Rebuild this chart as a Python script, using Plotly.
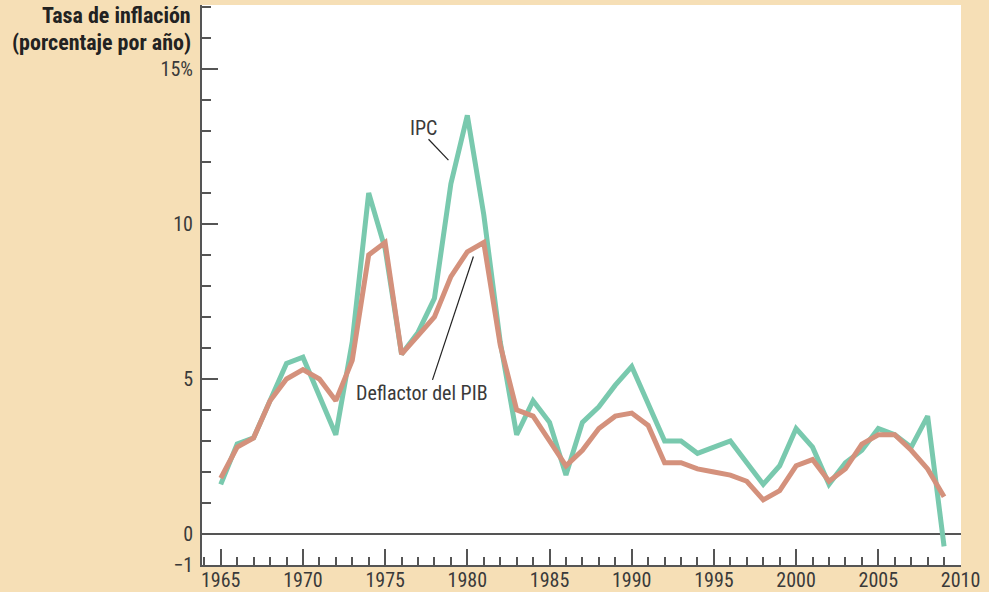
import plotly.graph_objects as go

years = list(range(1965, 2010))
ipc = [1.6, 2.9, 3.1, 4.3, 5.5, 5.7, 4.4, 3.2, 6.2, 11.0,
       9.2, 5.8, 6.5, 7.6, 11.3, 13.5, 10.3, 6.2, 3.2, 4.3,
       3.6, 1.9, 3.6, 4.1, 4.8, 5.4, 4.2, 3.0, 3.0, 2.6,
       2.8, 3.0, 2.3, 1.6, 2.2, 3.4, 2.8, 1.6, 2.3, 2.7,
       3.4, 3.2, 2.8, 3.8, -0.4]
deflactor = [1.8, 2.8, 3.1, 4.3, 5.0, 5.3, 5.0, 4.3, 5.6, 9.0,
             9.4, 5.8, 6.4, 7.0, 8.3, 9.1, 9.4, 6.1, 4.0, 3.8,
             3.0, 2.2, 2.7, 3.4, 3.8, 3.9, 3.5, 2.3, 2.3, 2.1,
             2.0, 1.9, 1.7, 1.1, 1.4, 2.2, 2.4, 1.7, 2.1, 2.9,
             3.2, 3.2, 2.7, 2.1, 1.2]

y_tickvals = [-1, 0, 5, 10, 15]
y_ticktext = ["\u22121", "0", "5", "10", "15%"]
x_tickvals = [1965, 1970, 1975, 1980, 1985, 1990, 1995, 2000, 2005, 2010]

FONT = "Liberation Sans Narrow, Arial Narrow, Roboto Condensed, sans-serif"
GREEN = "#79C9AE"
ORANGE = "#D4917C"
BEIGE = "#F6DFB6"
AXIS = "#555555"
TEXT = "#3a3a3a"

fig = go.Figure()
fig.add_trace(go.Scatter(x=years, y=ipc, mode="lines",
                         line=dict(color=GREEN, width=5), name="IPC"))
fig.add_trace(go.Scatter(x=years, y=deflactor, mode="lines",
                         line=dict(color=ORANGE, width=5), name="Deflactor del PIB"))

fig.update_layout(
    width=989, height=592,
    margin=dict(l=202, r=28, t=5, b=27, autoexpand=False),
    paper_bgcolor=BEIGE, plot_bgcolor="white",
    showlegend=False,
    font=dict(family=FONT, size=20, color=TEXT),
)

fig.update_xaxes(
    range=[1963.86, 2010.03], showgrid=False, zeroline=False,
    showline=True, linecolor=AXIS, linewidth=2,
    tickmode="array", tickvals=x_tickvals,
    ticks="inside", ticklen=16, tickwidth=1.5, tickcolor=AXIS,
    minor=dict(tickmode="linear", tick0=1965, dtick=1, ticks="inside",
               ticklen=8, tickwidth=1.5, tickcolor=AXIS),
    tickfont=dict(family=FONT, size=20, color=TEXT),
    ticklabelstandoff=-4,
    automargin=False,
)
fig.update_yaxes(
    range=[-1, 17.06], showgrid=False,
    zeroline=True, zerolinecolor=AXIS, zerolinewidth=1.5,
    showline=True, linecolor=AXIS, linewidth=2,
    tickmode="array", tickvals=y_tickvals, ticktext=y_ticktext,
    ticks="inside", ticklen=16, tickwidth=1.5, tickcolor=AXIS,
    minor=dict(tickmode="linear", tick0=0, dtick=1, ticks="inside",
               ticklen=9, tickwidth=1.5, tickcolor=AXIS),
    tickfont=dict(family=FONT, size=20, color=TEXT),
    ticklabelstandoff=3,
    automargin=False,
)

# Axis title (two lines)
fig.add_annotation(xref="paper", yref="paper", x=-9/759, y=1, yshift=-10,
                   text="<b>Tasa de inflación</b>", showarrow=False,
                   xanchor="right", yanchor="middle",
                   font=dict(family=FONT, size=22, color="#222222"))
fig.add_annotation(xref="paper", yref="paper", x=-9/759, y=1, yshift=-37,
                   text="<b>(porcentaje por año)</b>", showarrow=False,
                   xanchor="right", yanchor="middle",
                   font=dict(family=FONT, size=22, color="#222222"))

# Series labels with leader lines
fig.add_annotation(x=1977.33, y=13.09, text="IPC", showarrow=False,
                   xanchor="center", yanchor="middle",
                   font=dict(family=FONT, size=20, color=TEXT))
fig.add_shape(type="line", x0=1977.64, y0=12.73, x1=1978.85, y1=12.06,
              line=dict(color="#222222", width=1.2))
fig.add_annotation(x=1977.25, y=4.54, text="Deflactor del PIB", showarrow=False,
                   xanchor="center", yanchor="middle",
                   font=dict(family=FONT, size=20, color=TEXT))
fig.add_shape(type="line", x0=1977.88, y0=4.97, x1=1980.37, y1=8.95,
              line=dict(color="#222222", width=1.2))

fig.write_html("out.html", config={"displayModeBar": False},
               post_script="document.body.style.margin='0';document.body.style.overflow='hidden';")
